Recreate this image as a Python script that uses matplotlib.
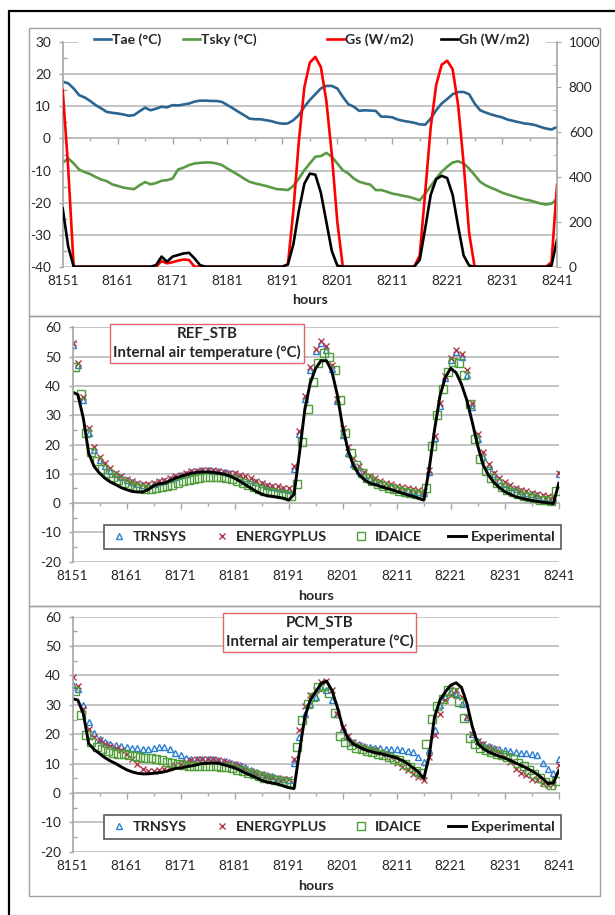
import numpy as np
import matplotlib.pyplot as plt
from matplotlib.patches import Rectangle
from matplotlib.ticker import MultipleLocator

plt.rcParams['font.family'] = ['Lato', 'DejaVu Sans']
plt.rcParams['axes.unicode_minus'] = False

# ---- data ----
hours = np.arange(8151, 8242)
ida_hours = np.arange(8151.5, 8241, 1.0)
xticks = hours[::10]

tae = [17.7, 17.2, 15.6, 13.5, 12.8, 11.7, 10.4, 9.4, 8.3, 8.0,
       7.8, 7.5, 7.1, 7.3, 8.5, 9.6, 8.8, 9.3, 9.9, 9.7,
       10.4, 10.3, 10.6, 10.9, 11.5, 11.8, 11.8, 11.7, 11.7, 11.4,
       10.4, 9.4, 8.3, 7.3, 6.2, 6.0, 6.0, 5.7, 5.4, 4.9,
       4.6, 4.7, 5.7, 7.3, 9.9, 12.0, 13.8, 15.6, 16.4, 16.4,
       15.6, 13.0, 10.7, 9.9, 8.6, 8.8, 8.7, 8.6, 6.8, 6.8,
       6.6, 5.9, 5.5, 5.2, 4.9, 4.4, 4.3, 6.2, 8.8, 10.9,
       12.3, 13.8, 14.5, 14.5, 13.8, 10.9, 8.8, 8.1, 7.5, 7.0,
       6.6, 5.9, 5.5, 5.1, 4.7, 4.5, 4.2, 3.6, 3.1, 2.8,
       3.6]
tsky = [-7.6, -6.2, -7.8, -9.7, -10.5, -11.1, -12.0, -12.8, -13.3, -14.3,
        -14.8, -15.3, -15.6, -15.8, -14.6, -13.6, -14.3, -13.9, -13.2, -13.0,
        -12.5, -9.7, -9.1, -8.3, -7.8, -7.6, -7.5, -7.5, -7.8, -8.3,
        -9.4, -10.4, -11.4, -12.5, -13.5, -14.0, -14.4, -14.8, -15.3, -15.8,
        -15.9, -16.1, -14.8, -12.5, -9.9, -7.8, -5.7, -5.5, -4.5, -5.7,
        -7.8, -9.9, -10.9, -12.5, -13.5, -14.0, -14.4, -16.1, -16.1, -16.6,
        -17.2, -17.5, -17.9, -18.2, -18.7, -19.3, -17.2, -14.9, -12.5, -10.4,
        -8.8, -7.5, -7.1, -7.8, -9.4, -11.4, -13.5, -14.6, -15.4, -16.1,
        -16.9, -17.5, -18.0, -18.5, -19.0, -19.3, -19.8, -20.3, -20.6, -20.3,
        -19.0]
gs = [787, 440, 0, 0, 0, 0, 0, 0, 0, 0,
      0, 0, 0, 0, 0, 0, 0, 0, 25, 15,
      20, 27, 32, 30, 0, 0, 0, 0, 0, 0,
      0, 0, 0, 0, 0, 0, 0, 0, 0, 0,
      0, 10, 250, 560, 800, 910, 935, 890, 740, 500,
      200, 0, 0, 0, 0, 0, 0, 0, 0, 0,
      0, 0, 0, 0, 0, 50, 330, 620, 810, 900,
      918, 880, 720, 460, 150, 0, 0, 0, 0, 0,
      0, 0, 0, 0, 0, 0, 0, 0, 0, 20,
      365]
gh = [260, 90, 0, 0, 0, 0, 0, 0, 0, 0,
      0, 0, 0, 0, 0, 0, 0, 7, 45, 22,
      45, 52, 59, 62, 37, 7, 0, 0, 0, 0,
      0, 0, 0, 0, 0, 0, 0, 0, 0, 0,
      0, 10, 100, 250, 370, 415, 410, 330, 200, 70,
      5, 0, 0, 0, 0, 0, 0, 0, 0, 0,
      0, 0, 0, 0, 0, 30, 170, 320, 390, 405,
      395, 320, 180, 50, 5, 0, 0, 0, 0, 0,
      0, 0, 0, 0, 0, 0, 0, 0, 0, 5,
      120]

# REF_STB internal air temperature
ref_exp = [37.9, 37.0, 29.0, 17.0, 12.5, 10.2, 8.5, 7.2, 6.3, 5.3,
           4.6, 4.0, 3.8, 3.8, 4.6, 5.9, 6.6, 6.8, 7.6, 8.5,
           9.1, 9.7, 10.2, 10.5, 10.6, 10.6, 10.5, 10.2, 9.9, 9.3,
           8.5, 7.4, 6.3, 5.1, 4.0, 3.1, 2.5, 2.3, 2.0, 1.7,
           1.0, 3.0, 17.0, 32.0, 41.0, 46.0, 48.6, 48.6, 45.0, 37.0,
           26.0, 18.0, 12.8, 9.8, 8.0, 6.8, 6.3, 5.7, 5.1, 4.6,
           4.0, 3.4, 2.8, 2.3, 1.7, 1.0, 11.5, 25.0, 36.5, 43.0,
           46.0, 44.5, 40.5, 35.0, 27.5, 19.5, 13.0, 9.5, 7.0, 5.3,
           3.9, 3.0, 2.2, 1.7, 1.3, 0.9, 0.6, 0.3, 0.1, -0.2,
           6.8]
ref_trn = [54.0, 47.0, 35.2, 23.8, 18.2, 14.8, 12.5, 11.1, 9.9, 8.9,
           7.9, 7.2, 6.5, 6.1, 6.2, 6.6, 7.2, 7.7, 8.3, 8.9,
           9.5, 10.1, 10.6, 11.0, 11.2, 11.2, 11.0, 10.8, 10.5, 10.2,
           9.9, 9.3, 8.7, 8.0, 7.2, 6.4, 5.8, 5.4, 5.1, 4.8,
           4.5, 11.6, 23.5, 35.6, 45.5, 51.8, 54.8, 52.3, 45.7, 34.7,
           23.3, 17.0, 13.5, 11.0, 9.5, 8.4, 7.6, 6.9, 6.3, 5.8,
           5.3, 4.9, 4.5, 4.1, 3.8, 3.6, 10.5, 22.2, 33.0, 42.7,
           48.9, 51.4, 50.0, 43.8, 32.8, 21.8, 15.9, 12.5, 9.8, 8.0,
           6.6, 5.6, 4.8, 4.1, 3.5, 3.0, 2.6, 2.2, 1.9, 1.6,
           10.0]
ref_ep = [54.7, 47.8, 36.1, 25.5, 19.3, 15.9, 13.6, 11.9, 10.4, 9.3,
          8.3, 7.6, 6.8, 6.4, 6.5, 6.8, 7.5, 7.9, 8.5, 9.1,
          9.6, 10.2, 10.8, 11.1, 11.3, 11.3, 11.2, 11.0, 10.7, 10.4,
          10.2, 9.6, 9.1, 8.5, 7.7, 6.8, 6.2, 5.9, 5.7, 5.3,
          5.0, 12.5, 24.7, 36.7, 46.6, 52.6, 55.4, 53.7, 47.2, 35.5,
          25.6, 19.3, 15.3, 12.6, 10.7, 9.4, 8.4, 7.6, 7.0, 6.4,
          5.9, 5.5, 5.1, 4.7, 4.4, 4.2, 11.4, 23.0, 34.0, 43.5,
          49.5, 52.2, 51.0, 45.5, 34.0, 23.7, 17.4, 13.2, 10.4, 8.6,
          7.2, 6.1, 5.3, 4.6, 4.0, 3.5, 3.1, 2.7, 2.4, 2.1,
          10.4]
ref_ida = [46.5, 37.2, 23.8, 17.5, 14.2, 11.8, 10.2, 8.9, 8.0, 7.0,
           6.2, 5.6, 5.0, 4.7, 4.7, 5.0, 5.4, 5.9, 6.3, 6.9,
           7.4, 7.9, 8.3, 8.7, 8.9, 8.9, 8.9, 8.8, 8.6, 8.2,
           7.7, 7.0, 6.3, 5.6, 4.8, 4.2, 3.7, 3.3, 3.0, 2.7,
           2.5, 6.5, 21.0, 32.1, 41.4, 47.8, 51.2, 49.8, 45.5, 35.3,
           23.9, 17.0, 13.0, 10.3, 8.6, 7.4, 6.5, 5.8, 5.2, 4.7,
           4.2, 3.8, 3.4, 3.0, 2.6, 5.3, 19.5, 30.0, 39.0, 44.8,
           48.2, 47.8, 43.8, 33.8, 21.9, 15.0, 11.0, 8.6, 6.9, 5.6,
           4.6, 3.8, 3.1, 2.5, 2.0, 1.6, 1.2, 0.9, 0.8, 4.0]

# PCM_STB internal air temperature
pcm_exp = [32.1, 31.6, 27.0, 16.8, 14.8, 13.4, 12.0, 10.9, 10.0, 8.9,
           7.9, 7.2, 6.7, 6.5, 6.5, 6.7, 6.9, 7.2, 7.7, 8.3,
           8.5, 8.9, 9.2, 9.6, 10.0, 10.1, 10.2, 10.1, 9.6, 9.1,
           8.5, 7.7, 6.8, 6.0, 5.2, 4.3, 3.7, 3.4, 3.0, 2.4,
           1.8, 1.5, 14.0, 25.9, 31.6, 34.4, 37.2, 38.1, 35.0, 29.3,
           22.5, 18.5, 16.6, 15.7, 14.8, 14.2, 13.7, 13.4, 12.9, 12.5,
           11.9, 11.1, 10.0, 8.6, 7.2, 4.9, 12.3, 25.9, 31.6, 34.4,
           36.7, 37.5, 35.9, 30.4, 22.5, 16.8, 15.1, 14.0, 13.2, 12.5,
           11.9, 11.1, 10.2, 9.4, 8.5, 7.5, 6.4, 4.9, 3.2, 3.4,
           7.7]
pcm_trn = [36.7, 35.5, 29.9, 24.2, 20.5, 18.5, 17.4, 16.8, 16.2, 16.0,
           15.7, 15.4, 15.3, 15.1, 15.1, 15.3, 15.7, 15.7, 15.1, 13.6,
           12.8, 12.0, 11.6, 11.5, 11.5, 11.5, 11.4, 11.1, 10.9, 10.6,
           10.0, 9.4, 8.9, 7.9, 7.2, 6.6, 6.0, 5.7, 5.2, 4.9,
           4.5, 10.2, 19.1, 27.0, 30.4, 32.7, 35.9, 35.2, 31.8, 27.0,
           21.9, 19.1, 17.4, 16.5, 15.9, 15.7, 15.4, 15.2, 15.1, 14.9,
           14.8, 14.5, 14.3, 14.1, 12.3, 10.6, 14.5, 21.3, 29.9, 32.7,
           34.4, 33.8, 30.4, 25.7, 20.2, 17.7, 16.6, 15.9, 15.3, 14.9,
           14.6, 14.3, 14.0, 13.7, 13.6, 13.4, 12.8, 10.2, 8.3, 6.8,
           11.4]
pcm_ep = [39.5, 36.3, 28.7, 21.9, 19.1, 17.9, 16.8, 16.0, 15.4, 14.5,
          13.4, 11.7, 10.0, 8.3, 7.4, 7.4, 7.7, 8.1, 8.9, 9.4,
          10.0, 10.6, 11.1, 11.4, 11.5, 11.5, 11.4, 11.1, 10.8, 10.3,
          9.8, 9.1, 8.3, 7.5, 6.8, 6.4, 5.9, 5.4, 5.1, 4.9,
          4.7, 11.4, 21.3, 29.5, 33.3, 35.2, 37.8, 38.0, 35.0, 27.0,
          22.5, 19.3, 17.4, 16.2, 15.7, 15.1, 14.5, 14.0, 13.2, 12.3,
          10.2, 8.9, 7.7, 6.6, 5.4, 4.3, 12.3, 19.6, 27.0, 31.6,
          33.3, 35.0, 32.7, 25.9, 20.2, 17.7, 16.6, 15.7, 14.9, 14.0,
          12.3, 10.6, 8.3, 6.8, 6.0, 4.9, 4.3, 3.4, 2.8, 3.0,
          9.6]
pcm_ida = [34.7, 26.7, 19.6, 17.4, 15.7, 14.9, 14.3, 13.7, 13.4, 13.1,
           12.8, 12.5, 12.3, 12.0, 11.8, 11.5, 11.1, 10.6, 10.2, 9.8,
           9.5, 9.3, 9.2, 9.2, 9.2, 9.1, 9.1, 9.0, 8.9, 8.5,
           7.9, 7.5, 6.8, 6.4, 5.8, 5.2, 4.9, 4.5, 4.2, 3.7,
           3.4, 15.7, 24.7, 30.4, 32.7, 35.9, 36.3, 34.1, 27.2, 19.3,
           17.4, 16.2, 15.3, 14.8, 14.3, 13.8, 13.4, 12.8, 12.3, 11.7,
           11.1, 10.0, 8.9, 7.5, 6.8, 16.6, 25.3, 29.5, 32.1, 35.0,
           34.4, 31.0, 25.5, 18.7, 16.8, 15.4, 14.5, 14.0, 13.4, 12.8,
           12.3, 11.4, 10.2, 9.1, 7.9, 6.6, 5.2, 3.7, 2.8, 4.0]

# ---- style ----
GRID = '#bfbfbf'
AXC = '#a6a6a6'
TXT = '#262626'
C_TAE = '#2b6592'
C_TSKY = '#5a9a44'
C_TRN = '#2a7fd0'
C_EP = '#b0394a'
C_IDA = '#4f9e3a'
FS = 9.8

W, H = 615, 915
fig = plt.figure(figsize=(W / 100, H / 100), dpi=100)


def px(x0, y0, x1, y1):
    # pixel box (from top-left) -> figure fraction [l, b, w, h]
    return [x0 / W, 1 - y1 / H, (x1 - x0) / W, (y1 - y0) / H]


def base_axes(ax, ymin, ymax):
    ax.set_xlim(hours[0], hours[-1])
    ax.set_ylim(ymin, ymax)
    ax.set_axisbelow(True)
    ax.yaxis.set_major_locator(MultipleLocator(10))
    ax.yaxis.set_minor_locator(MultipleLocator(5))
    ax.yaxis.grid(True, which='major', color=GRID, lw=1.3)
    for s in ['top', 'right', 'bottom']:
        ax.spines[s].set_visible(False)
    ax.spines['left'].set_color(AXC)
    ax.spines['left'].set_linewidth(1.2)
    ax.set_xticks(xticks)
    ax.tick_params(axis='x', length=0, pad=6, labelsize=FS, labelcolor=TXT)
    ax.tick_params(axis='y', which='major', direction='out', length=3,
                   color=AXC, width=1, pad=5.5, labelsize=FS, labelcolor=TXT)
    ax.tick_params(axis='y', which='minor', direction='in', length=3,
                   color=AXC, width=1)
    # horizontal axis line crossing at zero
    zero = (0 - ymin) / (ymax - ymin)
    sec = ax.secondary_xaxis(zero)
    sec.set_alignment('bottom')
    sec.set_xticks(xticks)
    sec.set_xticks(hours[5::10], minor=True)
    sec.tick_params(which='major', direction='out', length=4, color=AXC,
                    width=1, labelbottom=False, labeltop=False)
    sec.tick_params(which='minor', direction='out', length=2.5, color=AXC,
                    width=1)
    sec.spines['bottom'].set_color(AXC)
    sec.spines['bottom'].set_linewidth(1.3)
    ax.set_xlabel('hours', fontsize=FS + 0.5, fontweight='bold', color=TXT)
    ax.xaxis.label.set_va('center')
    ax.xaxis.set_label_coords(0.5, -0.146)


# ---- panel 1: weather ----
ax1 = fig.add_axes(px(62.7, 42.3, 557, 266.7))
base_axes(ax1, -40, 30)
ax1.plot(hours, tae, color=C_TAE, lw=1.9, label='Tae (°C)')
ax1.plot(hours, tsky, color=C_TSKY, lw=1.9, label='Tsky (°C)')
ax1r = ax1.twinx()
ax1r.set_ylim(0, 1000)
ax1r.yaxis.set_major_locator(MultipleLocator(200))
ax1r.yaxis.set_minor_locator(MultipleLocator(100))
for s in ['top', 'left', 'bottom']:
    ax1r.spines[s].set_visible(False)
ax1r.spines['right'].set_color(AXC)
ax1r.spines['right'].set_linewidth(1.2)
ax1r.tick_params(axis='y', which='major', direction='out', length=3,
                 color=AXC, pad=5.5, labelsize=FS, labelcolor=TXT)
ax1r.tick_params(axis='y', which='minor', direction='in', length=3, color=AXC)
ax1r.plot(hours, gs, color='#ff0000', lw=1.9, label='Gs (W/m2)')
ax1r.plot(hours, gh, color='black', lw=1.9, label='Gh (W/m2)')
ax1.xaxis.set_label_coords(0.5, -0.147)

# white strip hiding the top gridline behind the legend
fig.add_artist(Rectangle((78 / W, 1 - 48 / H), (546 - 78) / W, 12 / H,
                         transform=fig.transFigure, fc='white', ec='none',
                         zorder=1))
leg_kw = dict(loc='center left', frameon=False, ncol=2, handlelength=1.2,
              handletextpad=0.05, borderpad=0, borderaxespad=0,
              prop={'weight': 'bold', 'size': FS + 0.3})
h1, l1 = ax1.get_legend_handles_labels()
h2, l2 = ax1r.get_legend_handles_labels()
fig.legend(h1, l1, bbox_to_anchor=(94 / W, 1 - 40 / H), columnspacing=1.6,
           labelcolor=TXT, **leg_kw)
fig.legend(h2, l2, bbox_to_anchor=(327 / W, 1 - 40 / H), columnspacing=2.0,
           labelcolor=TXT, **leg_kw)


# ---- panels 2 and 3: internal air temperature ----
def temp_panel(box, exp, trn, ep, ida, title, title_xy):
    ax = fig.add_axes(px(*box))
    base_axes(ax, -20, 60)
    ax.plot(hours, trn, ls='none', marker='^', ms=4.6, mfc='none', mew=1.0,
            color=C_TRN, label='TRNSYS')
    ax.plot(hours, ep, ls='none', marker='x', ms=4.3, mew=1.0,
            color=C_EP, label='ENERGYPLUS')
    ax.plot(ida_hours, ida, ls='none', marker='s', ms=5.2, mfc='none',
            mew=1.0, color=C_IDA, label='IDAICE')
    ax.plot(hours, exp, color='black', lw=2.1, label='Experimental')
    leg = ax.legend(loc='lower left', mode='expand', ncol=4,
                    bbox_to_anchor=(0.065, 0.055, 0.94, 0.135),
                    borderaxespad=0, fancybox=False, framealpha=1,
                    handlelength=1.3, handletextpad=0.3,
                    prop={'weight': 'bold', 'size': FS + 0.6})
    leg.get_frame().set_edgecolor('#595959')
    leg.get_frame().set_linewidth(1.2)
    for t in leg.get_texts():
        t.set_color(TXT)
    fig.text(title_xy[0] / W, 1 - title_xy[1] / H, title, ha='center',
             va='center', fontsize=FS + 1.0, fontweight='bold', color=TXT,
             linespacing=1.4,
             bbox=dict(boxstyle='square,pad=0.18', fc='white',
                       ec='#e06666', lw=1.0))
    return ax


temp_panel((72.5, 327.3, 558.8, 561.7), ref_exp, ref_trn, ref_ep, ref_ida,
           'REF_STB\nInternal air temperature (°C)', (207, 343.5))
temp_panel((72.5, 616.7, 558.8, 851.7), pcm_exp, pcm_trn, pcm_ep, pcm_ida,
           'PCM_STB\nInternal air temperature (°C)', (319.5, 632.5))

# ---- panel frames and outer border ----
for y0, y1 in [(28, 316), (316, 606), (606, 896)]:
    fig.add_artist(Rectangle((29 / W, 1 - y1 / H), 571 / W, (y1 - y0) / H,
                             transform=fig.transFigure, fill=False,
                             ec='#a0a0a0', lw=1.0, zorder=0.5))
fig.add_artist(Rectangle((8.5 / W, -0.05), 1.1, 1 - 10.5 / H + 0.05,
                         transform=fig.transFigure, fill=False,
                         ec='black', lw=1.6, zorder=0.5))

fig.savefig('out.png', dpi=100)
